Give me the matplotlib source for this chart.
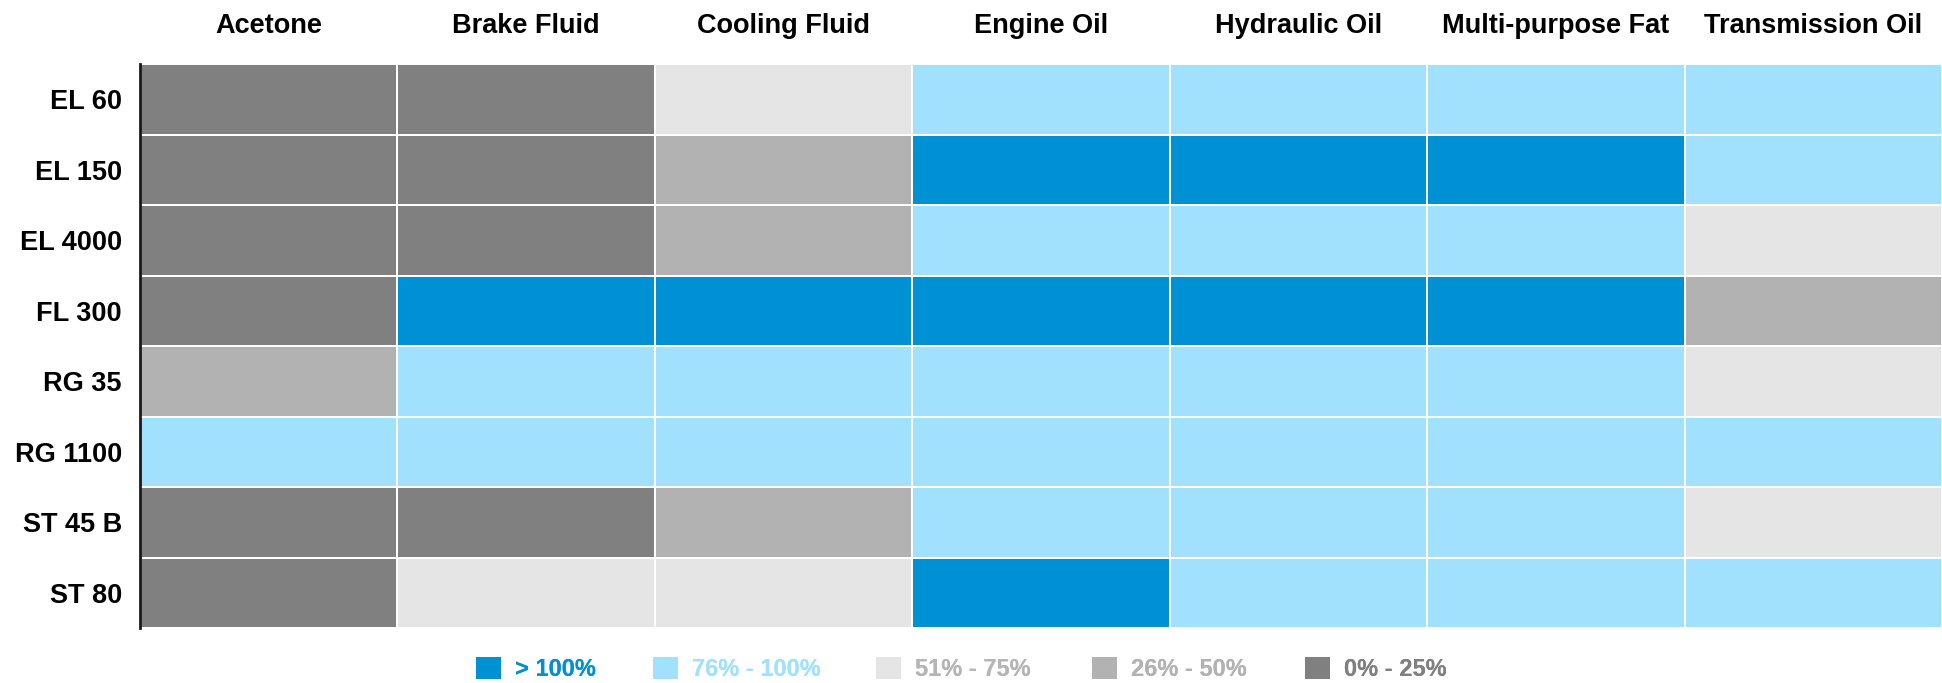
import matplotlib
matplotlib.use("Agg")
import matplotlib.pyplot as plt
from matplotlib.colors import ListedColormap, BoundaryNorm
from matplotlib.patches import Patch
import numpy as np

columns = ["Acetone", "Brake Fluid", "Cooling Fluid", "Engine Oil",
           "Hydraulic Oil", "Multi-purpose Fat", "Transmission Oil"]
rows = ["EL 60", "EL 150", "EL 4000", "FL 300", "RG 35", "RG 1100", "ST 45 B", "ST 80"]
# category index: 0 = >100%, 1 = 76-100%, 2 = 51-75%, 3 = 26-50%, 4 = 0-25%
levels = [
    [4, 4, 2, 1, 1, 1, 1],
    [4, 4, 3, 0, 0, 0, 1],
    [4, 4, 3, 1, 1, 1, 2],
    [4, 0, 0, 0, 0, 0, 3],
    [3, 1, 1, 1, 1, 1, 2],
    [1, 1, 1, 1, 1, 1, 1],
    [4, 4, 3, 1, 1, 1, 2],
    [4, 2, 2, 0, 1, 1, 1],
]
legend_labels = ["> 100%", "76% - 100%", "51% - 75%", "26% - 50%", "0% - 25%"]

# style
colors = ["#0091d4", "#a1e1fd", "#e5e5e5", "#b2b2b2", "#808080"]
legend_text_colors = ["#0091d4", "#a1e1fd", "#b5b5b5", "#b2b2b2", "#808080"]
legend_x_px = [476, 653, 876, 1092, 1305]
W, H = 1942, 683

plt.rcParams['font.family'] = ['Liberation Sans', 'DejaVu Sans']

fig = plt.figure(figsize=(W/100, H/100), dpi=100)
ax = fig.add_axes([140/W, 1-628/H, 1-140/W, (628-64)/H])

cmap = ListedColormap(colors)
norm = BoundaryNorm(np.arange(-0.5, 5.5, 1), cmap.N)
data = np.array(levels)
ax.pcolormesh(np.arange(len(columns)+1), np.arange(len(rows)+1), data,
              cmap=cmap, norm=norm, edgecolor="white", linewidth=1.2)
ax.set_xlim(0, len(columns))
ax.set_ylim(len(rows), 0)

ax.xaxis.tick_top()
ax.set_xticks(np.arange(len(columns)) + 0.5)
ax.set_xticklabels(columns, fontsize=19.5, fontweight="bold")
ax.set_yticks(np.arange(len(rows)) + 0.5)
ax.set_yticklabels(rows, fontsize=19.5, fontweight="bold")
ax.tick_params(axis="x", length=0, pad=18)
ax.tick_params(axis="y", length=0, pad=13)

for s in ["top", "right", "bottom"]:
    ax.spines[s].set_visible(False)
ax.spines["left"].set_linewidth(2)
ax.spines["left"].set_color("#1a1a1a")

for lab, c, tc, xp in zip(legend_labels, colors, legend_text_colors, legend_x_px):
    leg = fig.legend([Patch(facecolor=c, edgecolor="none")], [lab],
                     loc="center left", bbox_to_anchor=(xp/W, 1-669/H),
                     frameon=False, borderpad=0, borderaxespad=0,
                     handlelength=1.06, handleheight=1.06, handletextpad=0.6,
                     prop={"weight": "bold", "size": 17})
    leg.get_texts()[0].set_color(tc)
    fig.add_artist(leg)

fig.savefig("out.png", dpi=100)
